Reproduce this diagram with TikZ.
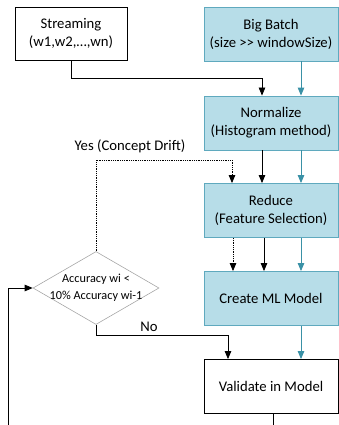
\documentclass[tikz,border=0pt]{standalone}
\usepackage{fontspec}
\setmainfont{Carlito}
\usetikzlibrary{arrows.meta,shapes.geometric}
\definecolor{boxfill}{HTML}{B7DDE8}
\definecolor{boxline}{HTML}{5FA9BE}
\definecolor{tealline}{HTML}{3A91A6}
\definecolor{diagray}{HTML}{A6A6A6}
\tikzset{
  mainfont/.style={font=\fontsize{14.7pt}{18pt}\selectfont},
  whitebox/.style={draw=black, line width=0.8pt, fill=white, align=center, mainfont, inner sep=0pt},
  bluebox/.style={draw=boxline, line width=0.8pt, fill=boxfill, align=center, mainfont, inner sep=0pt,
    minimum width=134pt, minimum height=54pt},
  decision/.style={diamond, draw=diagray, line width=0.6pt, inner sep=0pt, minimum width=126pt, minimum height=73pt},
  dectext/.style={align=center, font=\fontsize{12.25pt}{16.7pt}\selectfont, inner sep=0pt},
  blk/.style={draw=black, line width=0.8pt, -{Triangle[length=8pt,width=6.5pt]}},
  tealarr/.style={draw=tealline, line width=0.9pt, -{Triangle[length=8pt,width=6.5pt]}},
  dotarr/.style={draw=black, line width=0.8pt, densely dotted, -{Triangle[length=8pt,width=6.5pt]}},
  lbl/.style={mainfont, inner sep=0pt},
}
\begin{document}
\begin{tikzpicture}[x=1pt,y=-1pt]
\useasboundingbox (0,0) rectangle (339,425);
\node[whitebox, minimum width=112pt, minimum height=53pt] (stream) at (71,33.5) {Streaming\\(w1,w2,…,wn)};
\node[bluebox] (batch) at (271,34) {Big Batch\\(size >\kern0pt> windowSize)};
\node[bluebox] (norm) at (271,123) {Normalize\\(Histogram method)};
\node[bluebox] (reduce) at (271,210.5) {Reduce\\(Feature Selection)};
\node[bluebox] (create) at (271,298.5) {Create ML Model};
\node[whitebox, minimum width=134pt, minimum height=54pt] (valid) at (271,386.5) {Validate in Model};
\node[decision] (dec) at (96,288) {};
\node[dectext] (dect) at (dec.center) {Accuracy wi <\\10\% Accuracy wi-1};
\node[lbl] (yes) at (130,146) {Yes (Concept Drift)};
\node[lbl] (no) at (149,327) {No};
\coordinate (vbot) at (273,425);
\coordinate (lbot) at (8,425);
% streaming to normalize
\draw[blk] (stream.south) |- ([xshift=-9pt,yshift=17pt]norm.north) -- ([xshift=-9pt]norm.north);
\draw[tealarr] ([xshift=30pt]batch.south) -- ([xshift=30pt]norm.north);
% normalize to reduce
\draw[blk] ([xshift=-9pt]norm.south) -- ([xshift=-9pt]reduce.north);
\draw[tealarr] ([xshift=30pt]norm.south) -- ([xshift=30pt]reduce.north);
% concept drift loop
\draw[dotarr] (dec.north) |- ([xshift=-39pt,yshift=23pt]reduce.north) -- ([xshift=-39pt]reduce.north);
% reduce to create
\draw[dotarr] ([xshift=-38pt]reduce.south) -- ([xshift=-38pt]create.north);
\draw[blk] ([xshift=-7pt]reduce.south) -- ([xshift=-7pt]create.north);
\draw[tealarr] ([xshift=30pt]reduce.south) -- ([xshift=30pt]create.north);
% create to validate
\draw[tealarr] ([xshift=30pt]create.south) -- ([xshift=30pt]valid.north);
\draw[blk] (dec.south) |- ([xshift=-43pt,yshift=24pt]valid.north) -- ([xshift=-43pt]valid.north);
% validate out / loop back
\draw[draw=black, line width=0.8pt] ([xshift=2pt]valid.south) -- (vbot);
\draw[blk] (lbot) |- (dec.west);
\end{tikzpicture}
\end{document}
